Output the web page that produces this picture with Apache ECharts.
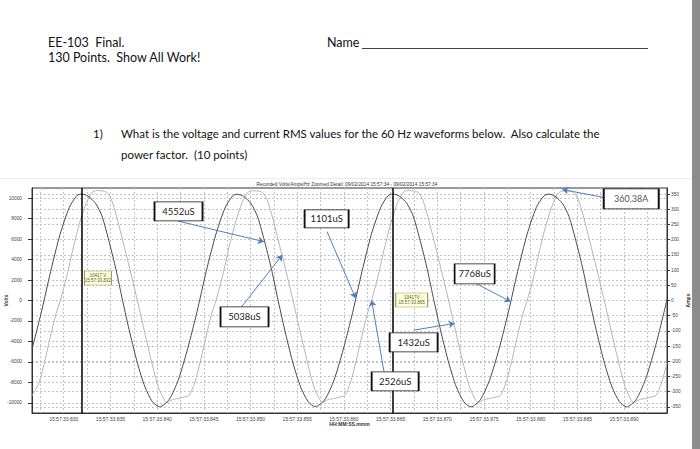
<!DOCTYPE html>
<html><head><meta charset="utf-8">
<script src="https://cdn.jsdelivr.net/npm/echarts@6/dist/echarts.min.js"></script>
<style>html,body{margin:0;padding:0;background:#fff}#c{width:700px;height:449px}</style>
</head><body><div id="c"></div>
<script>
// x values: milliseconds after 15:57:33
const xTickLabels = [830, 835, 840, 845, 850, 855, 860, 865, 870, 875, 880, 885, 890];
const voltTicks = [-10000, -8000, -6000, -4000, -2000, 0, 2000, 4000, 6000, 8000, 10000];
const ampTicks = [-350, -300, -250, -200, -150, -100, -50, 0, 50, 100, 150, 200, 250, 300, 350];

// Voltage waveform (dark trace, left axis)
const voltTime = [826.60, 827.60, 828.60, 829.60, 830.60, 831.40, 831.90, 832.60, 833.40, 834.10, 834.90, 835.60, 836.30, 837.10, 837.90, 838.70, 839.50, 840.27,
  841.27, 842.27, 843.27, 844.27, 845.27, 846.27, 847.27, 848.07, 848.57, 849.27, 850.07, 850.77, 851.57, 852.27, 852.97, 853.77, 854.57, 855.37, 856.17, 856.94,
  857.94, 858.94, 859.94, 860.94, 861.94, 862.94, 863.94, 864.74, 865.24, 865.94, 866.74, 867.44, 868.24, 868.94, 869.64, 870.44, 871.24, 872.04, 872.84, 873.61,
  874.61, 875.61, 876.61, 877.61, 878.61, 879.61, 880.61, 881.41, 881.91, 882.61, 883.41, 884.11, 884.91, 885.61, 886.31, 887.11, 887.91, 888.71, 889.51, 890.28,
  891.28, 892.28, 893.28, 894.28, 894.60];
const voltValues = [-4750, -1150, 2850, 6450, 9100, 10250, 10417, 10200, 9500, 8250, 5600, 3000, 0, -3250, -6150, -8450, -9900, -10400,
  -9700, -7750, -4700, -1100, 2900, 6400, 9050, 10200, 10390, 10180, 9450, 8150, 5550, 2950, -50, -3300, -6200, -8450, -9880, -10380,
  -9720, -7780, -4750, -1150, 2850, 6450, 9100, 10250, 10417, 10200, 9500, 8200, 5600, 3000, 0, -3250, -6150, -8450, -9900, -10400,
  -9700, -7750, -4750, -1150, 2850, 6450, 9100, 10230, 10410, 10190, 9480, 8200, 5600, 3000, 0, -3250, -6150, -8450, -9900, -10400,
  -9700, -7750, -4750, -1150, 100];

// Current waveform (light trace, right axis)
const ampTime = [826.60, 827.36, 827.96, 828.56, 829.16, 829.63, 830.33, 831.03, 831.73, 832.43, 833.03, 833.53, 834.13, 834.63, 835.13, 835.73, 836.43, 837.13, 837.88,
  838.63, 839.43, 840.13, 840.73, 841.03, 841.63, 842.33, 842.83, 843.43, 844.03, 844.63, 845.23, 845.83,
  846.30, 847.00, 847.70, 848.40, 849.10, 849.70, 850.20, 850.80, 851.30, 851.80, 852.40, 853.10, 853.80, 854.55,
  855.30, 856.10, 856.80, 857.40, 857.70, 858.30, 859.00, 859.50, 860.10, 860.70, 861.30, 861.90, 862.50,
  862.96, 863.66, 864.36, 865.06, 865.76, 866.36, 866.86, 867.46, 867.96, 868.46, 869.06, 869.76, 870.46, 871.21,
  871.96, 872.76, 873.46, 874.06, 874.36, 874.96, 875.66, 876.16, 876.76, 877.36, 877.96, 878.56, 879.16,
  879.63, 880.33, 881.03, 881.73, 882.43, 883.03, 883.53, 884.13, 884.63, 885.13, 885.73, 886.43, 887.13, 887.88,
  888.63, 889.43, 890.13, 890.73, 891.03, 891.63, 892.33, 892.83, 893.43, 894.03, 894.60];
const ampValues = [-313, -270, -200, -120, -45, 0, 80, 175, 258, 322, 355, 362, 360, 355, 330, 268, 183, 97, 0,
  -100, -205, -285, -325, -336, -326, -322, -318, -312, -270, -200, -120, -45,
  0, 80, 175, 258, 322, 355, 361, 360, 355, 330, 268, 183, 97, 0,
  -100, -205, -285, -325, -335, -326, -322, -318, -312, -270, -200, -120, -45,
  0, 80, 175, 258, 322, 355, 362, 360, 355, 330, 268, 183, 97, 0,
  -100, -205, -285, -325, -336, -326, -322, -318, -312, -270, -200, -120, -45,
  0, 80, 175, 258, 322, 355, 360, 360, 355, 330, 268, 183, 97, 0,
  -100, -205, -285, -325, -336, -326, -322, -318, -312, -270, -205];

// Handwritten-style annotation boxes (data coords: ms, volts)
const noteLabels = ['4552uS', '1101uS', '5038uS', '7768uS', '1432uS', '2526uS'];
const noteBoxes = [[842.29, 8705], [858.15, 7972], [849.36, -1602], [874.0, 2599], [867.47, -4093], [865.49, -7903]];
const noteFrom = [[842.2, 7776], [858.2, 6731], [849.04, -625], [874.1, 1690], [867.47, -2900], [864.29, -6946]];
const noteTo = [[851.43, 5754], [861.25, 225], [853.40, 4455], [877.86, -107], [871.86, -2237], [862.97, 10]];
// Peak current annotation (box in ms/amps, arrow in ms/volts)
const peakLabel = '360.38A';
const peakBox = [890.77, 334];
const peakFrom = [887.86, 10072];
const peakTo = [883.40, 10853];
// Cursors
const cursorTimes = [831.9, 865.25];
const cursorLabels = ['10417 V\n15:57:33.832', '10417V\n15:57:33.865'];
const cursorBoxes = [[833.66, 2208], [867.26, 59]];

const FONT = '"Liberation Sans", Arial, sans-serif';
const HFONT = 'Lato, "Open Sans", sans-serif';
const boxSizes = [[48, 19], [44, 18], [48, 20], [40, 20], [48, 19], [47, 19]];
const cursorSizes = [[27, 14], [32, 14]];

const xGrid = [];
for (let v = 827.5; v <= 893; v += 2.5) xGrid.push(v);

const chart = echarts.init(document.getElementById('c'), null, {renderer: 'svg'});

const arrowLine = {color: '#4f81bd', width: 1, type: 'solid'};

const option = {
  animation: false,
  backgroundColor: '#fff',
  grid: {left: 32, right: 33, top: 188, bottom: 36, show: true, borderColor: '#333', borderWidth: 1,
    containLabel: false, outerBoundsMode: 'none'},
  xAxis: {
    type: 'value', min: 826.6, max: 894.6,
    axisLine: {show: true, onZero: false, lineStyle: {color: '#333', width: 1}},
    axisTick: {show: false, customValues: xGrid},
    axisLabel: {customValues: xTickLabels, formatter: v => '15:57:33.' + Math.round(v), fontSize: 5, color: '#444', margin: 3, fontFamily: FONT},
    splitLine: {show: true, lineStyle: {color: '#c4c4c4', type: [2, 2], width: 1}},
    name: 'HH:MM:SS.mmm', nameLocation: 'middle', nameGap: 8, nameMoveOverlap: false,
    nameTextStyle: {fontSize: 5, fontWeight: 'bold', color: '#333', fontFamily: FONT}
  },
  yAxis: [{
    type: 'value', min: -11000, max: 11000, position: 'left',
    axisLine: {show: true, onZero: false, lineStyle: {color: '#333', width: 1}},
    axisTick: {show: true, length: 4, inside: false, customValues: voltTicks, lineStyle: {color: '#333'}},
    axisLabel: {customValues: voltTicks, formatter: v => String(v), fontSize: 4.8, color: '#444', margin: 10, fontFamily: FONT},
    splitLine: {show: true, lineStyle: {color: '#c4c4c4', type: [2, 2], width: 1}},
    name: 'Volts', nameLocation: 'middle', nameGap: 24, nameRotate: 90, nameMoveOverlap: false,
    nameTextStyle: {fontSize: 5, fontWeight: 'bold', color: '#333', fontFamily: FONT}
  }, {
    type: 'value', min: -370, max: 370, position: 'right',
    axisLine: {show: true, onZero: false, lineStyle: {color: '#333', width: 1}},
    axisTick: {show: true, length: 3, inside: false, customValues: ampTicks, lineStyle: {color: '#333'}},
    axisLabel: {customValues: ampTicks, formatter: v => String(v), fontSize: 4.8, color: '#444', margin: 4, fontFamily: FONT},
    splitLine: {show: true, lineStyle: {color: '#c4c4c4', type: [2, 2], width: 1}},
    name: 'Amps', nameLocation: 'middle', nameGap: 18, nameRotate: 90, nameMoveOverlap: false,
    nameTextStyle: {fontSize: 5, fontWeight: 'bold', color: '#333', fontFamily: FONT}
  }],
  series: [{
    name: 'Amps', type: 'line', yAxisIndex: 1, showSymbol: false, symbol: 'none', smooth: 0.25,
    lineStyle: {color: '#b4b4b4', width: 1}, emphasis: {disabled: true}, silent: true,
    data: ampTime.map((t, i) => [t, ampValues[i]]),
    markLine: {
      silent: true, symbol: 'none', label: {show: false},
      lineStyle: {color: '#000', width: 1.5, type: 'solid'},
      data: cursorTimes.map(t => ({xAxis: t}))
    },
    markPoint: {
      silent: true,
      data: [{coord: peakBox, symbol: 'rect', symbolSize: [55, 20],
        itemStyle: {color: '#fff', borderColor: '#111', borderWidth: 1.2},
        label: {show: true, position: 'inside', formatter: peakLabel, color: '#555', fontSize: 9, fontFamily: HFONT}}]
    }
  }, {
    name: 'Volts', type: 'line', yAxisIndex: 0, showSymbol: false, symbol: 'none', smooth: 0.25,
    lineStyle: {color: '#4a4a4a', width: 1}, emphasis: {disabled: true}, silent: true,
    data: voltTime.map((t, i) => [t, voltValues[i]]),
    markLine: {
      silent: true, symbol: ['none', 'arrow'], symbolSize: 6, label: {show: false},
      lineStyle: arrowLine,
      data: noteFrom.map((f, i) => [{coord: f}, {coord: noteTo[i]}])
        .concat([[{coord: peakFrom}, {coord: peakTo}]])
    },
    markPoint: {
      silent: true,
      data: noteBoxes.map((b, i) => ({
        coord: b, symbol: 'rect', symbolSize: boxSizes[i],
        itemStyle: {color: '#fff', borderColor: '#111', borderWidth: 1.2},
        label: {show: true, position: 'inside', formatter: noteLabels[i], color: '#222', fontSize: 9.5, fontFamily: HFONT}
      })).concat(cursorBoxes.map((b, i) => ({
        coord: b, symbol: 'rect', symbolSize: cursorSizes[i],
        itemStyle: {color: '#ffffd2', borderColor: '#9a9a7a', borderWidth: 0.8},
        label: {show: true, position: 'inside', formatter: cursorLabels[i], color: '#555', fontSize: 4.5, lineHeight: 5.5, fontFamily: FONT}
      })))
    }
  }],
  graphic: [
    {type: 'rect', shape: {x: 692, y: 0, width: 8, height: 449}, style: {fill: '#8c8c8c'}, silent: true},
    {type: 'line', shape: {x1: 0, y1: 178.5, x2: 692, y2: 178.5}, style: {stroke: '#ececec', lineWidth: 1}, silent: true},
    {type: 'text', x: 48, y: 42, style: {text: 'EE-103  Final.', fontSize: 12.5, fontFamily: HFONT, fill: '#111', verticalAlign: 'middle'}},
    {type: 'text', x: 48, y: 57, style: {text: '130 Points.  Show All Work!', fontSize: 12.5, fontFamily: HFONT, fill: '#111', verticalAlign: 'middle'}},
    {type: 'text', x: 327, y: 42, style: {text: 'Name', fontSize: 12.5, fontFamily: HFONT, fill: '#111', verticalAlign: 'middle'}},
    {type: 'line', shape: {x1: 362, y1: 48.5, x2: 648, y2: 48.5}, style: {stroke: '#111', lineWidth: 0.8}},
    {type: 'text', x: 93, y: 133, style: {text: '1)', fontSize: 11.5, fontFamily: HFONT, fill: '#111', verticalAlign: 'middle'}},
    {type: 'text', x: 121, y: 133, style: {text: 'What is the voltage and current RMS values for the 60 Hz waveforms below.  Also calculate the', fontSize: 11.5, fontFamily: HFONT, fill: '#111', verticalAlign: 'middle'}},
    {type: 'text', x: 121, y: 154, style: {text: 'power factor.  (10 points)', fontSize: 11.5, fontFamily: HFONT, fill: '#111', verticalAlign: 'middle'}},
    {type: 'text', x: 347, y: 184, style: {text: 'Recorded Volts/Amps/Hz Zoomed Detail: 09/02/2014 15:57:34 - 09/02/2014 15:57:34', fontSize: 4.8, fontFamily: FONT, fill: '#333', align: 'center', verticalAlign: 'middle'}}
  ]
};
chart.setOption(option);
</script>
</body></html>
